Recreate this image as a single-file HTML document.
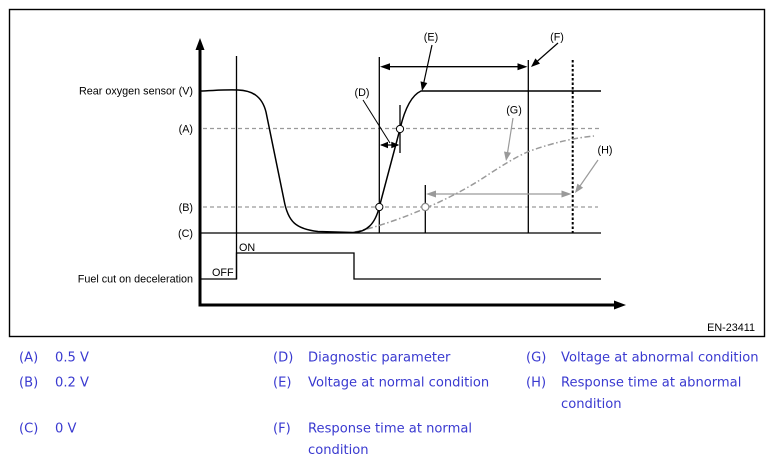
<!DOCTYPE html>
<html><head><meta charset="utf-8"><style>
html,body{margin:0;padding:0;background:#fff;}
svg{display:block;}
.c{font-family:"Liberation Sans",Arial,sans-serif;font-size:10.8px;fill:#000;}
.l{font-family:"DejaVu Sans",Verdana,sans-serif;font-size:13.1px;fill:#3a3ad0;}
</style></head><body>
<svg width="772" height="463" viewBox="0 0 772 463" xmlns="http://www.w3.org/2000/svg">
<rect x="9.5" y="9.5" width="755" height="327" fill="none" stroke="#000" stroke-width="1.4"/>

<!-- axes -->
<line x1="200" y1="48" x2="200" y2="306.5" stroke="#000" stroke-width="3"/>
<polygon points="200,38 195.5,50 204.5,50" fill="#000"/>
<line x1="198.5" y1="305" x2="615" y2="305" stroke="#000" stroke-width="3"/>
<polygon points="626,305 614,300.5 614,309.5" fill="#000"/>

<!-- dashed reference lines -->
<line x1="203" y1="128.5" x2="600" y2="128.5" stroke="#9a9a9a" stroke-width="1.3" stroke-dasharray="4,3"/>
<line x1="203" y1="207" x2="598" y2="207" stroke="#9a9a9a" stroke-width="1.3" stroke-dasharray="4,3"/>

<!-- (C) line -->
<line x1="200" y1="233" x2="601" y2="233" stroke="#000" stroke-width="1.3"/>

<!-- fuel cut step -->
<polyline points="200,279 236.5,279 236.5,253 354,253 354,279 601,279" fill="none" stroke="#000" stroke-width="1.3"/>
<line x1="236.5" y1="56" x2="236.5" y2="279" stroke="#000" stroke-width="1.3"/>

<!-- verticals -->
<line x1="379.3" y1="57" x2="379.3" y2="233" stroke="#000" stroke-width="1.3"/>
<line x1="400" y1="105" x2="400" y2="153" stroke="#000" stroke-width="1.3"/>
<line x1="528.3" y1="60" x2="528.3" y2="233" stroke="#000" stroke-width="1.3"/>
<line x1="425.3" y1="185" x2="425.3" y2="233" stroke="#000" stroke-width="1.3"/>
<line x1="572.7" y1="60" x2="572.7" y2="233" stroke="#000" stroke-width="2" stroke-dasharray="2.5,2"/>

<!-- gray abnormal curve -->
<path d="M355,232 C390,224 440,205 480,180 C500,167 515,157 530,151 C555,142 575,138 594,136" fill="none" stroke="#9a9a9a" stroke-width="1.5" stroke-dasharray="6,2.5,1.5,2.5"/>

<!-- main black curve -->
<path d="M200,91 C215,90.5 225,89.5 238,90 C252,90.5 262,96 266,112 L284,200 C288,222 296,229 318,231.5 L353,232.5 C367,232 375,224 379.3,207 L400,129 C404,112 410,96 421,91 L601,91" fill="none" stroke="#000" stroke-width="1.5"/>

<!-- normal response arrow -->
<line x1="382" y1="66.7" x2="525" y2="66.7" stroke="#000" stroke-width="1.3"/>
<polygon points="380,66.7 390,63.2 390,70.2" fill="#000"/>
<polygon points="527.5,66.7 517.5,63.2 517.5,70.2" fill="#000"/>

<!-- D arrow -->
<line x1="381" y1="145" x2="398" y2="145" stroke="#000" stroke-width="1.3"/>
<polygon points="380,145 388,141.8 388,148.2" fill="#000"/>
<polygon points="399.3,145 391.3,141.8 391.3,148.2" fill="#000"/>
<line x1="363" y1="100" x2="390" y2="143" stroke="#000" stroke-width="1"/>

<!-- E arrow -->
<line x1="432" y1="45" x2="423.5" y2="84" stroke="#000" stroke-width="1.2"/>
<polygon points="422,91 427.3,83 420.5,81.4" fill="#000"/>
<!-- F arrow -->
<line x1="558" y1="43" x2="537" y2="61.5" stroke="#000" stroke-width="1.2"/>
<polygon points="531,67 540,63.6 535.4,58.4" fill="#000"/>
<!-- G arrow -->
<line x1="513" y1="118" x2="507.5" y2="153" stroke="#9a9a9a" stroke-width="1.2"/>
<polygon points="506,161 511,152.7 504,151.5" fill="#9a9a9a"/>
<!-- H arrows -->
<line x1="598" y1="160" x2="580" y2="186" stroke="#9a9a9a" stroke-width="1.2"/>
<polygon points="575,193 583.1,187.7 577.4,183.6" fill="#9a9a9a"/>
<line x1="428" y1="194" x2="569" y2="194" stroke="#9a9a9a" stroke-width="1.3"/>
<polygon points="426,194 436,190.5 436,197.5" fill="#9a9a9a"/>
<polygon points="571.5,194 561.5,190.5 561.5,197.5" fill="#9a9a9a"/>

<!-- circles -->
<circle cx="379.3" cy="207" r="3.6" fill="#fff" stroke="#000" stroke-width="1"/>
<circle cx="400" cy="129" r="3.6" fill="#fff" stroke="#000" stroke-width="1"/>
<circle cx="425.3" cy="207" r="3.6" fill="#fff" stroke="#8a8a8a" stroke-width="1.2"/>

<!-- chart labels -->
<text class="c" x="193" y="94.5" text-anchor="end">Rear oxygen sensor (V)</text>
<text class="c" x="193" y="132.5" text-anchor="end">(A)</text>
<text class="c" x="193" y="211" text-anchor="end">(B)</text>
<text class="c" x="193" y="237" text-anchor="end">(C)</text>
<text class="c" x="193" y="282.5" text-anchor="end">Fuel cut on deceleration</text>
<text class="c" x="212" y="276">OFF</text>
<text class="c" x="239" y="251">ON</text>
<text class="c" x="362" y="96" text-anchor="middle">(D)</text>
<text class="c" x="431" y="40.5" text-anchor="middle">(E)</text>
<text class="c" x="557" y="40.5" text-anchor="middle">(F)</text>
<text class="c" x="514" y="113.5" text-anchor="middle">(G)</text>
<text class="c" x="605" y="153.5" text-anchor="middle">(H)</text>
<text class="c" x="755" y="331" text-anchor="end">EN-23411</text>

<!-- legend -->
<text class="l" x="19" y="361.5">(A)</text>
<text class="l" x="55" y="361.5">0.5 V</text>
<text class="l" x="19" y="386.5">(B)</text>
<text class="l" x="55" y="386.5">0.2 V</text>
<text class="l" x="19" y="432.5">(C)</text>
<text class="l" x="55" y="432.5">0 V</text>

<text class="l" x="273" y="361.5">(D)</text>
<text class="l" x="308" y="361.5">Diagnostic parameter</text>
<text class="l" x="273" y="386.5">(E)</text>
<text class="l" x="308" y="386.5">Voltage at normal condition</text>
<text class="l" x="273" y="432.5">(F)</text>
<text class="l" x="308" y="432.5">Response time at normal</text>
<text class="l" x="308" y="454">condition</text>

<text class="l" x="526" y="361.5">(G)</text>
<text class="l" x="561" y="361.5">Voltage at abnormal condition</text>
<text class="l" x="526" y="386.5">(H)</text>
<text class="l" x="561" y="386.5">Response time at abnormal</text>
<text class="l" x="561" y="408">condition</text>
</svg>
</body></html>
